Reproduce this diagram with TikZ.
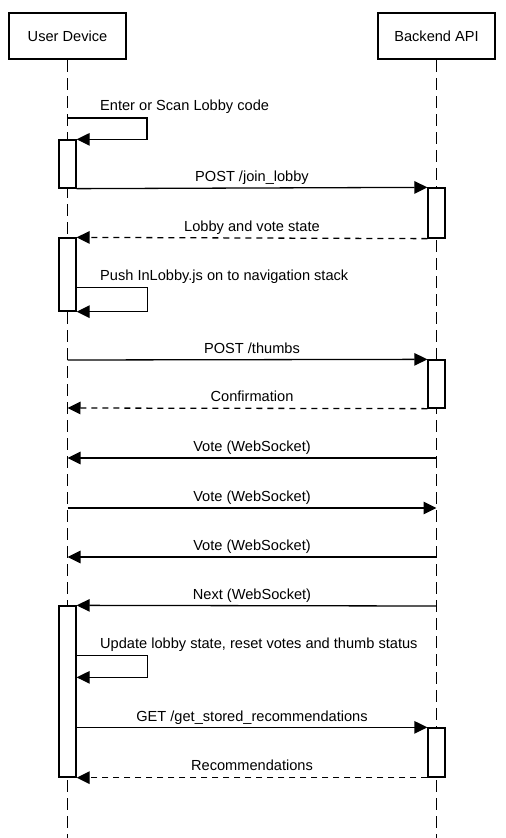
\documentclass[tikz,border=0pt]{standalone}
\usepackage{fontspec}
\setmainfont{Liberation Sans}
\usetikzlibrary{arrows.meta,calc}
\begin{document}
\begin{tikzpicture}[x=1pt,y=-1pt,
  actor/.style={draw,line width=2pt,minimum width=117pt,minimum height=46pt,inner sep=0pt,font=\fontsize{14.6}{17}\selectfont},
  act/.style={draw,line width=1.3pt,fill=white,inner sep=0pt,minimum width=17pt},
  life/.style={line width=1.3pt,dash pattern=on 12pt off 6pt},
  msg/.style={line width=1.3pt,-{Triangle[length=13pt,width=12.5pt]}},
  ret/.style={msg,dash pattern=on 6pt off 5pt},
  lbl/.style={anchor=base,font=\fontsize{14.6}{17}\selectfont,inner sep=0pt},
  slbl/.style={lbl,anchor=base west}]
\useasboundingbox (0,0) rectangle (506,838);
% participants
\node[actor] (ud) at (67.5,36) {User Device};
\node[actor] (be) at (436.5,36) {Backend API};
\coordinate (udend) at (67.5,838);
\coordinate (beend) at (436.5,838);
\draw[life] (ud.south) -- (udend);
\draw[life] (be.south) -- (beend);
% activations
\node[act,minimum height=48pt] (a1) at (67.5,164) {};
\node[act,minimum height=73pt] (a2) at (67.5,274.5) {};
\node[act,minimum height=171pt] (a3) at (67.5,691.5) {};
\node[act,minimum height=50pt] (b1) at (436.5,213) {};
\node[act,minimum height=48pt] (b2) at (436.5,384) {};
\node[act,minimum height=49pt] (b3) at (436.5,752.5) {};
% self message 1
\coordinate (s1a) at (67.5,118);
\draw[msg] (s1a) -- ++(79.5,0) |- (a1.north east);
\node[slbl] (l1) at (100,110) {Enter or Scan Lobby code};
% join lobby
\draw[msg] (a1.south east) -- (b1.north west);
\node[lbl] (l2) at (252,181) {POST /join\_lobby};
\draw[ret] (b1.south west) -- (a2.north east);
\node[lbl] (l3) at (252,231) {Lobby and vote state};
% self message 2
\coordinate (s2a) at ($(a2.north east)+(0,50)$);
\draw[msg] (s2a) -- ++(70.5,0) |- (a2.south east);
\node[slbl] (l4) at (100,280) {Push InLobby.js on to navigation stack};
% thumbs
\coordinate (m3s) at (67.5,360);
\draw[msg] (m3s) -- (b2.north west);
\node[lbl] (l5) at (252,353) {POST /thumbs};
\coordinate (m4e) at (67.5,408);
\draw[ret] (b2.south west) -- (m4e);
\node[lbl] (l6) at (252,401) {Confirmation};
% votes
\coordinate (v1s) at (436.5,458);
\coordinate (v1e) at (67.5,458);
\draw[msg] (v1s) -- (v1e);
\node[lbl] (l7) at (252,451) {Vote (WebSocket)};
\coordinate (v2s) at (67.5,508);
\coordinate (v2e) at (436.5,508);
\draw[msg] (v2s) -- (v2e);
\node[lbl] (l8) at (252,501) {Vote (WebSocket)};
\coordinate (v3s) at (436.5,557);
\coordinate (v3e) at (67.5,557);
\draw[msg] (v3s) -- (v3e);
\node[lbl] (l9) at (252,550) {Vote (WebSocket)};
% next
\coordinate (ns) at (436.5,606);
\draw[msg] (ns) -- (a3.north east);
\node[lbl] (l10) at (252,599) {Next (WebSocket)};
% self message 3
\coordinate (s3a) at ($(a3.north east)+(0,50)$);
\coordinate (s3e) at ($(a3.north east)+(0,72)$);
\draw[msg] (s3a) -- ++(70.5,0) |- (s3e);
\node[slbl] (l11) at (100,648) {Update lobby state, reset votes and thumb status};
% recommendations
\coordinate (gs) at ($(a3.north east)+(0,122)$);
\draw[msg] (gs) -- (b3.north west);
\node[lbl] (l12) at (252,721) {GET /get\_stored\_recommendations};
\draw[ret] (b3.south west) -- (a3.south east);
\node[lbl] (l13) at (252,770) {Recommendations};
\end{tikzpicture}
\end{document}
